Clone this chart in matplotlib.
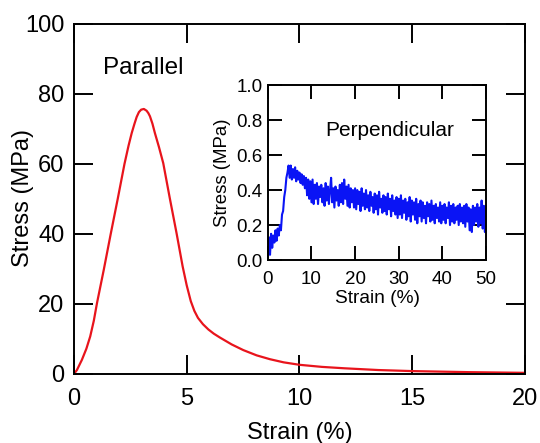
import numpy as np
import matplotlib
matplotlib.use("Agg")
import matplotlib.pyplot as plt

plt.rcParams['font.family'] = ['Liberation Sans', 'DejaVu Sans']

# Parallel direction: strain (%) vs stress (MPa)
par_strain = [0, 0.13, 0.35, 0.55, 0.72, 0.88, 1.02, 1.32, 1.63, 1.94, 2.24, 2.42, 2.56,
              2.68, 2.78, 2.88, 2.98, 3.10, 3.22, 3.30, 3.37, 3.48, 3.59, 3.77, 3.96,
              4.25, 4.55, 4.82, 5.0, 5.18, 5.34, 5.5, 5.72, 5.96, 6.2, 6.47, 7.0, 7.51,
              8.1, 8.69, 9.3, 10.0, 11.0, 12.0, 13.5, 15.0, 17.5, 20.0]
par_stress = [0, 1.1, 4.0, 7.2, 10.7, 15.2, 20.2, 29.7, 40.0, 50.0, 60.0, 65.2, 68.8,
              71.4, 73.4, 74.8, 75.5, 75.7, 75.2, 74.5, 73.6, 71.5, 68.8, 64.8, 60.2,
              50.2, 40.2, 30.7, 25.3, 20.8, 18.0, 16.0, 14.2, 12.7, 11.5, 10.4, 8.4, 6.8,
              5.3, 4.2, 3.3, 2.6, 2.0, 1.6, 1.1, 0.8, 0.5, 0.3]

# Perpendicular direction: noisy stress (MPa), one value every 0.25 % strain
perp_stress = [
    0.00, 0.13, 0.03, 0.15, 0.07, 0.14, 0.10, 0.17, 0.11, 0.18, 0.14,
    0.20, 0.17, 0.26, 0.28, 0.36, 0.40, 0.47, 0.50, 0.54, 0.47,
    0.54, 0.46, 0.52, 0.47, 0.53, 0.45, 0.51, 0.46, 0.50, 0.44,
    0.49, 0.43, 0.48, 0.41, 0.47, 0.37, 0.46, 0.35, 0.45, 0.33,
    0.46, 0.32, 0.43, 0.35, 0.44, 0.32, 0.42, 0.36, 0.43, 0.33,
    0.41, 0.31, 0.44, 0.34, 0.42, 0.32, 0.40, 0.47, 0.33, 0.41,
    0.30, 0.42, 0.34, 0.40, 0.31, 0.43, 0.33, 0.44, 0.32, 0.46,
    0.35, 0.42, 0.31, 0.43, 0.30, 0.41, 0.33, 0.40, 0.30, 0.41,
    0.29, 0.40, 0.32, 0.39, 0.28, 0.41, 0.31, 0.38, 0.29, 0.40,
    0.30, 0.37, 0.28, 0.39, 0.31, 0.36, 0.27, 0.38, 0.29, 0.37,
    0.26, 0.39, 0.30, 0.35, 0.27, 0.37, 0.28, 0.36, 0.26, 0.38,
    0.29, 0.35, 0.25, 0.37, 0.28, 0.34, 0.26, 0.36, 0.24, 0.35,
    0.26, 0.37, 0.24, 0.34, 0.27, 0.35, 0.23, 0.33, 0.25, 0.36,
    0.22, 0.34, 0.26, 0.33, 0.23, 0.35, 0.21, 0.32, 0.25, 0.34,
    0.22, 0.33, 0.24, 0.31, 0.21, 0.33, 0.25, 0.32, 0.22, 0.34,
    0.23, 0.31, 0.21, 0.32, 0.24, 0.30, 0.22, 0.33, 0.21, 0.31,
    0.23, 0.32, 0.21, 0.30, 0.24, 0.33, 0.20, 0.31, 0.22, 0.32,
    0.21, 0.30, 0.23, 0.31, 0.20, 0.32, 0.22, 0.30, 0.21, 0.31,
    0.19, 0.32, 0.22, 0.30, 0.17, 0.29, 0.16, 0.31, 0.20, 0.30,
    0.22, 0.32, 0.19, 0.30, 0.21, 0.34, 0.18, 0.31, 0.16, 0.28,
]
perp_strain = np.linspace(0, 50, len(perp_stress))

main_xticks = [0, 5, 10, 15, 20]
main_yticks = [0, 20, 40, 60, 80, 100]
inset_xticks = [0, 10, 20, 30, 40, 50]
inset_yticks = [0.0, 0.2, 0.4, 0.6, 0.8, 1.0]

fig = plt.figure(figsize=(5.4, 4.43), dpi=100)
ax = fig.add_axes([0.137, 0.156, 0.835, 0.790])
ax.plot(par_strain, par_stress, color='#e8141c', lw=1.6)
ax.set_xlim(0, 20)
ax.set_ylim(0, 100)
ax.set_xticks(main_xticks)
ax.set_yticks(main_yticks)
ax.tick_params(direction='in', length=13.5, width=1.4, top=True, right=True,
               labelsize=17)
ax.tick_params(axis='x', pad=10)
ax.tick_params(axis='y', pad=7)
for s in ax.spines.values():
    s.set_linewidth(1.4)
ax.set_xlabel('Strain (%)', fontsize=17)
ax.set_ylabel('Stress (MPa)', fontsize=17)
ax.xaxis.set_label_coords(0.5, -0.169)
ax.xaxis.label.set_va('center')
ax.yaxis.set_label_coords(-0.113, 0.504)
ax.yaxis.label.set_va('center')
ax.text(1.29, 87.4, 'Parallel', fontsize=17.5, ha='left', va='center')

ins = fig.add_axes([0.496, 0.413, 0.404, 0.395])
ins.plot(perp_strain, perp_stress, color='#0a14f5', lw=1.5)
ins.set_xlim(0, 50)
ins.set_ylim(0, 1.0)
ins.set_xticks(inset_xticks)
ins.set_yticks(inset_yticks)
ins.set_yticklabels([f'{v:.1f}' for v in inset_yticks])
ins.tick_params(direction='in', length=10, width=1.4, top=True, right=True,
                labelsize=13.5)
ins.tick_params(axis='x', pad=8)
ins.tick_params(axis='y', pad=4)
for s in ins.spines.values():
    s.set_linewidth(1.4)
ins.set_xlabel('Strain (%)', fontsize=13.8)
ins.set_ylabel('Stress (MPa)', fontsize=13.4)
ins.xaxis.set_label_coords(0.502, -0.217)
ins.xaxis.label.set_va('center')
ins.yaxis.set_label_coords(-0.206, 0.5)
ins.yaxis.label.set_va('center')
ins.text(13.1, 0.74, 'Perpendicular', fontsize=15, ha='left', va='center')

fig.savefig('out.png', dpi=100)
